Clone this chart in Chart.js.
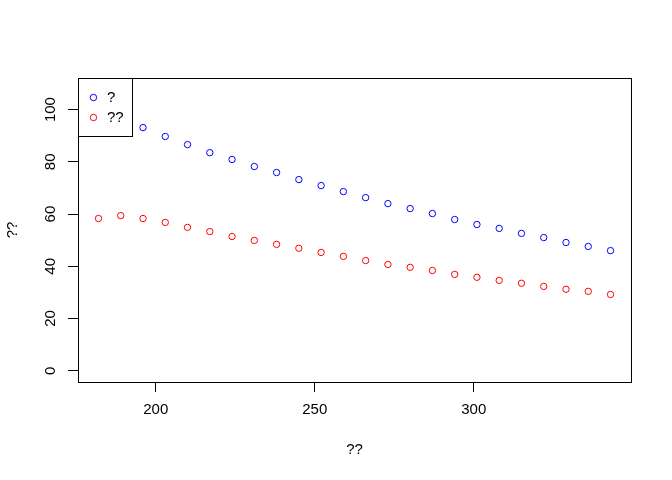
<!DOCTYPE html>
<html>
<head>
<meta charset="utf-8">
<script src="https://cdn.jsdelivr.net/npm/chart.js@4"></script>
<style>
  html, body { margin: 0; padding: 0; background: #fff; }
  #wrap { width: 672px; height: 480px; }
</style>
</head>
<body>
<div id="wrap"><canvas id="chart" width="672" height="480"></canvas></div>
<script>
// data
const xValues = [182, 189, 196, 203, 210, 217, 224, 231, 238, 245, 252, 259,
                 266, 273, 280, 287, 294, 301, 308, 315, 322, 329, 336, 343];
const blueValues = [100.2, 96.7, 93.1, 89.7, 86.6, 83.5, 80.9, 78.2, 75.9, 73.2, 70.9, 68.6,
                    66.3, 64.0, 62.1, 60.2, 57.9, 56.0, 54.5, 52.6, 51.0, 49.1, 47.6, 46.0];
const redValues = [58.3, 59.4, 58.3, 56.8, 54.9, 53.3, 51.4, 49.9, 48.4, 46.9, 45.3, 43.8,
                   42.2, 40.7, 39.6, 38.4, 36.9, 35.8, 34.6, 33.5, 32.3, 31.2, 30.4, 29.2];
const seriesNames = ['?', '??'];
const xTitle = '??';
const yTitle = '??';
const xLimits = [175.56, 349.44];
const yLimits = [-4.31, 112.1];

const FONT = "'Liberation Sans', Arial, sans-serif";

function toPoints(ys) {
    return xValues.map((x, i) => ({ x: x, y: ys[i] }));
}

// box around plot region
const boxPlugin = {
    id: 'box',
    afterDraw(chart) {
        const a = chart.chartArea;
        const ctx = chart.ctx;
        ctx.save();
        ctx.strokeStyle = '#000';
        ctx.lineWidth = 1;
        ctx.strokeRect(Math.round(a.left) + 0.5, Math.round(a.top) + 0.5,
                       Math.round(a.right - a.left), Math.round(a.bottom - a.top));
        ctx.restore();
    }
};

// rotated y tick labels, like R's default
const yLabelPlugin = {
    id: 'yLabels',
    afterDraw(chart) {
        const scale = chart.scales.y;
        const ctx = chart.ctx;
        ctx.save();
        ctx.fillStyle = '#000';
        ctx.font = '15px ' + FONT;
        ctx.textAlign = 'center';
        ctx.textBaseline = 'middle';
        scale.ticks.forEach(t => {
            const py = scale.getPixelForValue(t.value);
            ctx.save();
            ctx.translate(51, py);
            ctx.rotate(-Math.PI / 2);
            ctx.fillText(String(t.value), 0, 0);
            ctx.restore();
        });
        ctx.restore();
    }
};

// legend box in top-left corner, white filled
const legendPlugin = {
    id: 'cornerLegend',
    afterDatasetsDraw(chart) {
        const a = chart.chartArea;
        const ctx = chart.ctx;
        const x0 = Math.round(a.left) + 0.5, y0 = Math.round(a.top) + 0.5;
        ctx.save();
        ctx.fillStyle = '#fff';
        ctx.fillRect(x0, y0, 54, 58);
        ctx.strokeStyle = '#000';
        ctx.lineWidth = 1;
        ctx.strokeRect(x0, y0, 54, 58);
        ctx.font = '15px ' + FONT;
        ctx.textBaseline = 'middle';
        ctx.textAlign = 'left';
        chart.data.datasets.forEach((ds, i) => {
            const cy = a.top + 19.5 + i * 20;
            ctx.beginPath();
            ctx.strokeStyle = ds.borderColor;
            ctx.arc(a.left + 15.5, cy, 3.2, 0, Math.PI * 2);
            ctx.stroke();
            ctx.fillStyle = '#000';
            ctx.fillText(ds.label, a.left + 29, cy);
        });
        ctx.restore();
    }
};

new Chart(document.getElementById('chart'), {
    type: 'scatter',
    data: {
        datasets: [
            { label: seriesNames[0], data: toPoints(blueValues), borderColor: '#0000ff',
              backgroundColor: 'rgba(0,0,0,0)', pointRadius: 3.2, borderWidth: 1, pointHoverRadius: 3.2 },
            { label: seriesNames[1], data: toPoints(redValues), borderColor: '#ff0000',
              backgroundColor: 'rgba(0,0,0,0)', pointRadius: 3.2, borderWidth: 1, pointHoverRadius: 3.2 }
        ]
    },
    options: {
        responsive: false,
        animation: false,
        devicePixelRatio: 1,
        layout: { autoPadding: false, padding: { left: 0, top: 78, right: 41, bottom: 0 } },
        plugins: { legend: { display: false }, tooltip: { enabled: false } },
        scales: {
            x: {
                type: 'linear',
                min: xLimits[0], max: xLimits[1],
                afterFit: s => { s.height = 98; },
                border: { display: false },
                grid: { drawOnChartArea: false, drawTicks: true, tickLength: 10, color: '#000', lineWidth: 1 },
                ticks: { stepSize: 50, includeBounds: false, maxRotation: 0, autoSkip: false,
                         padding: 9, color: '#000', font: { family: FONT, size: 15 } },
                title: { display: true, text: xTitle, color: '#000', font: { family: FONT, size: 15 },
                         padding: { top: 0, bottom: 21 } }
            },
            y: {
                type: 'linear',
                min: yLimits[0], max: yLimits[1],
                afterFit: s => { s.width = 78; },
                border: { display: false },
                grid: { drawOnChartArea: false, drawTicks: true, tickLength: 10, color: '#000', lineWidth: 1 },
                ticks: { stepSize: 20, includeBounds: false, display: false },
                title: { display: true, text: yTitle, color: '#000', font: { family: FONT, size: 15 },
                         padding: { top: 4, bottom: 0 } }
            }
        }
    },
    plugins: [boxPlugin, yLabelPlugin, legendPlugin]
});
</script>
</body>
</html>
